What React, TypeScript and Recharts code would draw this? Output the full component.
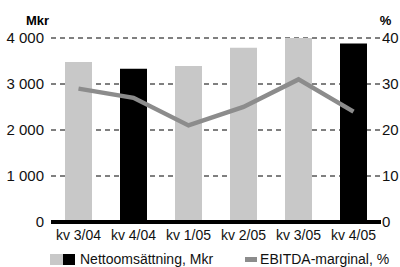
import { ComposedChart, Bar, Line, XAxis, YAxis, CartesianGrid, Cell } from 'recharts';

const quarters = ['kv 3/04', 'kv 4/04', 'kv 1/05', 'kv 2/05', 'kv 3/05', 'kv 4/05'];
const nettoomsattning = [3480, 3330, 3390, 3790, 4000, 3880];
const ebitdaMarginal = [29, 27, 21, 25, 31, 24];
const leftTicks = [0, 1000, 2000, 3000, 4000];
const rightTicks = [0, 10, 20, 30, 40];

const data = quarters.map((q, i) => ({
  quarter: q,
  netto: nettoomsattning[i],
  ebitda: ebitdaMarginal[i],
}));

const FONT = '"Liberation Sans", Arial, sans-serif';
const LIGHT = '#c8c8c8';
const DARK = '#000000';
const LINE = '#8c8c8c';

const formatThousands = (v: number) => v.toLocaleString('sv-SE').replace(/\u00a0/g, ' ');

// legend drawn as plain html under the chart, recharts' Legend eats into the plot height
const ChartLegend = () => (
  <div
    style={{
      position: 'absolute', left: 50, top: 251, display: 'flex', alignItems: 'center',
      fontFamily: FONT, fontSize: 14, color: '#111', whiteSpace: 'nowrap',
    }}
  >
    <span style={{ display: 'inline-block', width: 13, height: 11, background: LIGHT }} />
    <span style={{ display: 'inline-block', width: 12, height: 11, background: DARK, marginRight: 5 }} />
    <span style={{ marginRight: 32 }}>Nettoomsättning, Mkr</span>
    <span style={{ display: 'inline-block', width: 12, height: 5, background: LINE, marginRight: 3 }} />
    <span>EBITDA-marginal, %</span>
  </div>
);

export default function App() {
  return (
    <div style={{ position: 'absolute', left: 0, top: 0, width: 400, height: 267, background: '#fff' }}>
      <ComposedChart
        width={400}
        height={267}
        data={data}
        margin={{ top: 38, right: 0, bottom: 20, left: 0 }}
        barSize={27}
      >
        <CartesianGrid
          yAxisId="left"
          vertical={false}
          stroke="#000"
          strokeDasharray="5 4"
          horizontalValues={[1000, 2000, 3000, 4000]}
        />
        <XAxis
          dataKey="quarter"
          height={25}
          tickLine={false}
          axisLine={{ stroke: '#000', strokeWidth: 4 }}
          tickSize={0}
          tickMargin={8}
          tick={{ fontFamily: FONT, fontSize: 14, fill: '#111' }}
          interval={0}
        />
        <YAxis
          yAxisId="left"
          orientation="left"
          width={51}
          domain={[0, 4000]}
          ticks={leftTicks}
          tickFormatter={formatThousands}
          axisLine={false}
          tickLine={false}
          tickSize={0}
          tickMargin={7}
          tick={{ fontFamily: FONT, fontSize: 15, fill: '#111' }}
          label={{ value: 'Mkr', position: 'top', offset: 13, dx: 12, style: { fontFamily: FONT, fontSize: 13, fontWeight: 'bold', fill: '#000' } }}
        />
        <YAxis
          yAxisId="right"
          orientation="right"
          width={19}
          domain={[0, 40]}
          ticks={rightTicks}
          axisLine={false}
          tickLine={false}
          tickSize={0}
          tickMargin={1}
          tick={{ fontFamily: FONT, fontSize: 15, fill: '#111' }}
          label={{ value: '%', position: 'top', offset: 13, dx: -5, style: { fontFamily: FONT, fontSize: 13, fontWeight: 'bold', fill: '#000' } }}
        />
        <Bar yAxisId="left" dataKey="netto" isAnimationActive={false}>
          {data.map((d, i) => (
            <Cell key={d.quarter} fill={i === 1 || i === 5 ? DARK : LIGHT} />
          ))}
        </Bar>
        <Line
          yAxisId="right"
          dataKey="ebitda"
          type="linear"
          stroke={LINE}
          strokeWidth={4.5}
          dot={false}
          activeDot={false}
          isAnimationActive={false}
        />
      </ComposedChart>
      <ChartLegend />
    </div>
  );
}
